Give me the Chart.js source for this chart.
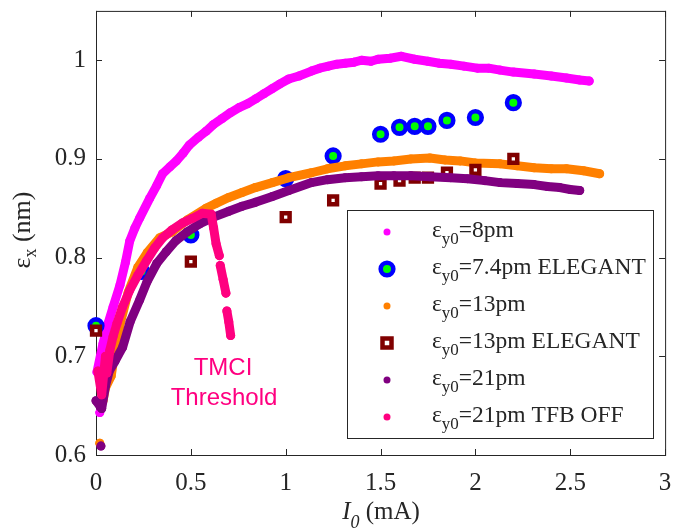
<!DOCTYPE html>
<html>
<head>
<meta charset="utf-8">
<script src="https://cdn.jsdelivr.net/npm/chart.js@4.4.1/dist/chart.umd.min.js"></script>
<style>
  html, body { margin: 0; padding: 0; background: #fff; }
  #wrap { width: 676px; height: 532px; }
</style>
</head>
<body>
<div id="wrap"><canvas id="chart" width="676" height="532"></canvas></div>
<script>
// --- DATA: [I0 (mA), emittance x (nm)]; null = gap in the trace ---
const ey8pm = [
  [0.02,0.643], null,
  [0.005,0.684],[0.037,0.713],[0.063,0.733],[0.09,0.750],[0.126,0.772],
  [0.155,0.795],[0.178,0.817],[0.205,0.830],[0.23,0.840],[0.283,0.860],[0.32,0.873],
  [0.351,0.885],[0.39,0.892],[0.424,0.898],[0.46,0.906],[0.492,0.914],[0.54,0.922],
  [0.58,0.928],[0.62,0.935],[0.665,0.941],[0.71,0.947],[0.754,0.952],[0.80,0.956],
  [0.843,0.961],[0.885,0.966],[0.927,0.971],[0.97,0.976],[1.016,0.981],[1.07,0.984],
  [1.136,0.989],[1.18,0.992],[1.225,0.994],[1.27,0.996],[1.314,0.997],[1.36,0.998],
  [1.40,1.000],[1.45,0.999],[1.487,1.001],[1.55,1.002],[1.61,1.004],[1.68,1.001],
  [1.749,0.999],[1.81,0.997],[1.87,0.996],[1.94,0.994],[2.01,0.992],[2.07,0.992],
  [2.13,0.990],[2.20,0.988],[2.31,0.986],[2.40,0.984],[2.48,0.982],[2.55,0.980],[2.60,0.979]
];
const ey74Elegant = [
  [0,0.731],[0.24,0.786],[0.5,0.823],[1.0,0.880],[1.25,0.903],[1.5,0.925],[1.6,0.932],
  [1.68,0.933],[1.75,0.933],[1.85,0.939],[2.0,0.942],[2.2,0.957]
];
const ey13pm = [
  [0.02,0.612], null,
  [0.037,0.655],[0.05,0.668],[0.08,0.680],[0.10,0.705],[0.13,0.735],
  [0.17,0.765],[0.22,0.790],[0.27,0.805],[0.335,0.820],[0.40,0.826],[0.48,0.838],
  [0.58,0.850],[0.633,0.855],[0.70,0.861],[0.77,0.866],[0.84,0.871],[0.93,0.876],
  [1.016,0.881],[1.136,0.886],[1.22,0.890],[1.314,0.893],[1.40,0.895],[1.487,0.897],
  [1.57,0.898],[1.66,0.900],[1.76,0.901],[1.84,0.899],[1.92,0.898],[2.0,0.896],
  [2.13,0.895],[2.22,0.893],[2.31,0.891],[2.40,0.890],[2.48,0.890],[2.57,0.888],[2.655,0.885]
];
const ey13Elegant = [
  [0,0.726],[0.5,0.796],[1.0,0.841],[1.25,0.858],[1.5,0.875],[1.6,0.878],[1.68,0.881],
  [1.75,0.881],[1.85,0.886],[2.0,0.889],[2.2,0.900]
];
const ey21pm = [
  [0.026,0.609], null,
  [0,0.655],[0.03,0.647],[0.05,0.670],[0.07,0.685],[0.10,0.695],
  [0.14,0.709],[0.18,0.735],[0.23,0.757],[0.27,0.776],[0.32,0.794],[0.37,0.806],
  [0.42,0.817],[0.48,0.826],[0.545,0.834],[0.62,0.841],[0.70,0.847],[0.77,0.852],
  [0.84,0.856],[0.93,0.862],[1.016,0.868],[1.136,0.876],[1.22,0.879],[1.314,0.881],
  [1.40,0.882],[1.487,0.883],[1.57,0.883],[1.66,0.883],[1.76,0.882],[1.87,0.881],
  [1.958,0.880],[2.05,0.878],[2.13,0.876],[2.22,0.875],[2.31,0.874],[2.38,0.872],
  [2.445,0.871],[2.50,0.869],[2.55,0.868]
];
const ey21TfbOff = [
  [0.01,0.685],[0.03,0.661],[0.05,0.700],[0.057,0.683],[0.073,0.706],[0.09,0.720],
  [0.11,0.733],[0.14,0.750],[0.178,0.767],[0.22,0.782],[0.267,0.797],[0.31,0.810],
  [0.351,0.820],[0.40,0.828],[0.455,0.835],[0.51,0.840],[0.56,0.845],[0.607,0.844],
  [0.62,0.830],[0.633,0.814],[0.65,0.802], null,
  [0.655,0.792],[0.67,0.778],[0.685,0.764], null,
  [0.69,0.746],[0.70,0.735],[0.71,0.721]
];

const xTicks = [0, 0.5, 1, 1.5, 2, 2.5, 3];
const yTicks = [0.6, 0.7, 0.8, 0.9, 1];
const legendLabels = ['=8pm', '=7.4pm ELEGANT', '=13pm', '=13pm ELEGANT', '=21pm', '=21pm TFB OFF'];

const AXIS = '#262626';
const SERIF = '"Liberation Serif", "Times New Roman", serif';
const SANS = '"Liberation Sans", Arial, sans-serif';

const pts = arr => arr.map(p => (p ? { x: p[0], y: p[1] } : { x: null, y: null }));

// dense measured curves: dots + thick line so they read as a band
const band = (data, color, order) => ({
  data: pts(data), showLine: true, spanGaps: false, order,
  borderColor: color, borderWidth: 9, borderJoinStyle: 'round', borderCapStyle: 'round',
  backgroundColor: color, pointRadius: 4.5, pointBorderWidth: 0, clip: false
});

const datasets = [
  band(ey8pm, '#ff00ff', 6),
  { data: pts(ey74Elegant), order: 5, showLine: false, pointRadius: 6.3, pointBorderWidth: 4.6,
    pointBorderColor: '#0000ff', pointBackgroundColor: '#00ff00', clip: false },
  band(ey13pm, '#ff8000', 4),
  { data: pts(ey13Elegant), order: 3, showLine: false, pointStyle: 'rect', pointRadius: 5.5,
    pointBorderWidth: 4.5, pointBorderColor: '#800000', pointBackgroundColor: '#ffffff', clip: false },
  band(ey21pm, '#800080', 2),
  band(ey21TfbOff, '#ff0080', 1)
];

// draw a run of text pieces (for sub-scripts)
function drawRuns(ctx, x, y, runs) {
  runs.forEach(r => {
    ctx.font = r.font;
    ctx.fillText(r.t, x, y + (r.dy || 0));
    x += ctx.measureText(r.t).width;
  });
}
function runsWidth(ctx, runs) {
  return runs.reduce((w, r) => { ctx.font = r.font; return w + ctx.measureText(r.t).width; }, 0);
}

// no extra room for edge tick labels: plot box is fixed by layout padding
function fixBox(s, size) {
  if (s.isHorizontal()) s.height = size; else s.width = size;
  s.paddingLeft = s.paddingRight = s.paddingTop = s.paddingBottom = 0;
}

const frame = {
  id: 'frame',
  beforeDatasetsDraw(chart) {
    const { ctx, chartArea: a, scales } = chart;
    ctx.save();
    ctx.strokeStyle = AXIS;
    ctx.lineWidth = 1;
    ctx.strokeRect(a.left + 0.5, a.top + 0.5, a.right - a.left, a.bottom - a.top);
    ctx.beginPath();
    xTicks.forEach(v => {
      const px = Math.round(scales.x.getPixelForValue(v)) + 0.5;
      ctx.moveTo(px, a.bottom); ctx.lineTo(px, a.bottom - 6);
      ctx.moveTo(px, a.top); ctx.lineTo(px, a.top + 6);
    });
    yTicks.forEach(v => {
      const py = Math.round(scales.y.getPixelForValue(v)) + 0.5;
      ctx.moveTo(a.left, py); ctx.lineTo(a.left + 6, py);
      ctx.moveTo(a.right, py); ctx.lineTo(a.right - 6, py);
    });
    ctx.stroke();
    ctx.restore();
  },
  afterDraw(chart) {
    const { ctx } = chart;
    ctx.save();
    ctx.fillStyle = AXIS;
    ctx.textBaseline = 'alphabetic';

    // y axis title: eps_x (nm)
    const yRuns = [
      { t: 'ε', font: `26px ${SERIF}` },
      { t: 'x', font: `18px ${SERIF}`, dy: 6 },
      { t: ' (nm)', font: `26px ${SERIF}` }
    ];
    ctx.save();
    ctx.translate(30, 230);
    ctx.rotate(-Math.PI / 2);
    drawRuns(ctx, -runsWidth(ctx, yRuns) / 2, 0, yRuns);
    ctx.restore();

    // x axis title: I_0 (mA)
    const xRuns = [
      { t: 'I', font: `italic 25px ${SERIF}` },
      { t: '0', font: `italic 18px ${SERIF}`, dy: 9 },
      { t: ' (mA)', font: `25px ${SERIF}` }
    ];
    drawRuns(ctx, 381 - runsWidth(ctx, xRuns) / 2, 519, xRuns);

    // annotation
    ctx.fillStyle = '#ff0080';
    ctx.font = `24px ${SANS}`;
    ctx.textAlign = 'center';
    ctx.fillText('TMCI', 223, 375);
    ctx.fillText('Threshold', 224, 405);
    ctx.textAlign = 'left';

    // legend box
    const bx = 347.5, by = 210.5, bw = 306, bh = 228;
    ctx.fillStyle = '#ffffff';
    ctx.fillRect(bx, by, bw, bh);
    ctx.strokeStyle = AXIS;
    ctx.lineWidth = 1;
    ctx.strokeRect(bx, by, bw, bh);

    legendLabels.forEach((lab, i) => {
      const ds = chart.data.datasets[i];
      const my = 232 + 37 * i, mx = 387;
      ctx.beginPath();
      if (ds.pointStyle === 'rect') {
        const s = 9;
        ctx.rect(mx - s / 2, my - s / 2, s, s);
        ctx.fillStyle = ds.pointBackgroundColor; ctx.fill();
        ctx.lineWidth = ds.pointBorderWidth; ctx.strokeStyle = ds.pointBorderColor; ctx.stroke();
      } else if (ds.pointBorderColor) {
        ctx.arc(mx, my, ds.pointRadius, 0, Math.PI * 2);
        ctx.fillStyle = ds.pointBackgroundColor; ctx.fill();
        ctx.lineWidth = ds.pointBorderWidth; ctx.strokeStyle = ds.pointBorderColor; ctx.stroke();
      } else {
        ctx.arc(mx, my, 3.5, 0, Math.PI * 2);
        ctx.fillStyle = ds.backgroundColor; ctx.fill();
      }
      ctx.fillStyle = AXIS;
      drawRuns(ctx, 432, 237 + 37 * i, [
        { t: 'ε', font: `23.5px ${SERIF}` },
        { t: 'y0', font: `17px ${SERIF}`, dy: 7 },
        { t: lab, font: `23.5px ${SERIF}` }
      ]);
    });
    ctx.restore();
  }
};

new Chart(document.getElementById('chart'), {
  type: 'scatter',
  data: { datasets },
  options: {
    responsive: false,
    animation: false,
    events: [],
    layout: { padding: { top: 9, right: 7, left: 0, bottom: 0 } },
    plugins: { legend: { display: false }, tooltip: { enabled: false } },
    scales: {
      x: {
        type: 'linear', min: 0, max: 3,
        afterFit: s => fixBox(s, 77),
        afterBuildTicks: s => { s.ticks = xTicks.map(value => ({ value })); },
        grid: { display: false, drawTicks: false },
        border: { display: false },
        ticks: { padding: 13, color: AXIS, font: { family: SERIF, size: 25 }, maxRotation: 0,
                 callback: v => String(v) }
      },
      y: {
        type: 'linear', min: 0.6, max: 1.05,
        afterFit: s => fixBox(s, 96),
        afterBuildTicks: s => { s.ticks = yTicks.map(value => ({ value })); },
        grid: { display: false, drawTicks: false },
        border: { display: false },
        ticks: { padding: 10, color: AXIS, font: { family: SERIF, size: 25 },
                 callback: v => (v === 1 ? '1' : v.toFixed(1)) }
      }
    }
  },
  plugins: [frame]
});
</script>
</body>
</html>
